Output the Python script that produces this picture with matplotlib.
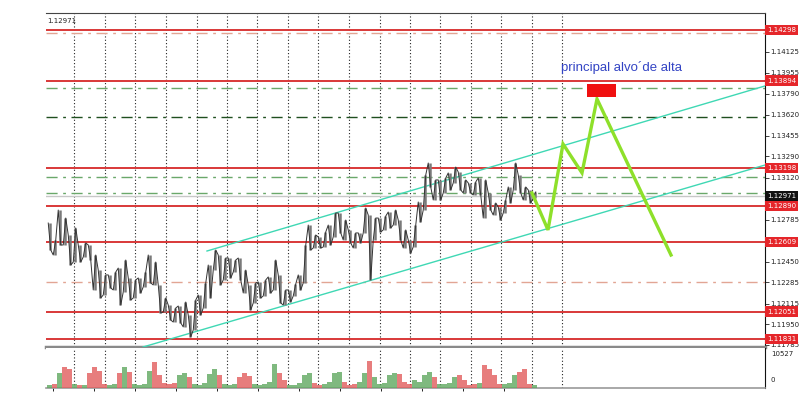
import matplotlib.pyplot as plt
from matplotlib.transforms import blended_transform_factory
import numpy as np

# barras (maxima / minima) - EURUSD H4 aprox
highs = [1.12757, 1.12622, 1.12861, 1.12797, 1.12662, 1.12718, 1.12582, 1.12598, 1.12582, 1.12502,
         1.12382, 1.12343, 1.12343, 1.12366, 1.12398, 1.12462, 1.12319, 1.12303, 1.12319, 1.12366,
         1.12502, 1.12446, 1.12263, 1.12159, 1.12103, 1.12079, 1.12095, 1.12127, 1.12023, 1.12143,
         1.12183, 1.12279, 1.12422, 1.12542, 1.12502, 1.12478, 1.12478, 1.12462, 1.12478, 1.12382,
         1.12263, 1.12279, 1.12287, 1.12303, 1.12327, 1.12462, 1.12343, 1.12223, 1.12223, 1.12271,
         1.12343, 1.12582, 1.12741, 1.12662, 1.12646, 1.12686, 1.12741, 1.12837, 1.12837, 1.12781,
         1.12702, 1.12678, 1.12678, 1.12877, 1.12821, 1.12797, 1.12797, 1.12813, 1.12845, 1.12861,
         1.12781, 1.12702, 1.12622, 1.12741, 1.12925, 1.13141, 1.13236, 1.13101, 1.13101, 1.13117,
         1.13157, 1.13204, 1.13164, 1.13101, 1.13077, 1.13085, 1.13117, 1.13101, 1.12997, 1.12917,
         1.12885, 1.12941, 1.13045, 1.13236, 1.13141, 1.13045, 1.13021, 1.13005]
lows = [1.12542, 1.12502, 1.12582, 1.12582, 1.12422, 1.12446, 1.12446, 1.12486, 1.12462, 1.12223,
        1.12159, 1.12183, 1.12239, 1.12223, 1.12103, 1.12207, 1.12143, 1.12159, 1.12199, 1.12247,
        1.12279, 1.12263, 1.12039, 1.12047, 1.11983, 1.11967, 1.11960, 1.11928, 1.11848, 1.11904,
        1.12023, 1.12079, 1.12159, 1.12382, 1.12263, 1.12303, 1.12319, 1.12366, 1.12303, 1.12199,
        1.12063, 1.12119, 1.12159, 1.12175, 1.12199, 1.12223, 1.12119, 1.12103, 1.12127, 1.12175,
        1.12223, 1.12279, 1.12542, 1.12558, 1.12558, 1.12566, 1.12582, 1.12646, 1.12678, 1.12622,
        1.12598, 1.12558, 1.12598, 1.12678, 1.12303, 1.12622, 1.12686, 1.12702, 1.12718, 1.12741,
        1.12622, 1.12558, 1.12518, 1.12566, 1.12765, 1.12861, 1.13045, 1.12941, 1.12941, 1.12997,
        1.13021, 1.13077, 1.13021, 1.12997, 1.12997, 1.12981, 1.12981, 1.12797, 1.12861, 1.12821,
        1.12781, 1.12837, 1.12917, 1.13021, 1.12997, 1.12941, 1.12917, 1.12957]
volumes = [830, 1110, 3880, 5540, 4990, 1110, 830, 830, 3880, 5540,
           4430, 1110, 830, 1110, 3880, 5540, 4160, 1110, 830, 1110,
           4430, 6930, 3320, 1390, 1110, 1390, 3320, 3880, 2770, 1110,
           830, 1390, 3600, 4990, 3320, 1110, 830, 1110, 2770, 3880,
           3050, 1110, 830, 1110, 1660, 6370, 3880, 2220, 830, 830,
           1390, 3320, 3880, 1390, 830, 1110, 1660, 3880, 4160, 1660,
           830, 1110, 1660, 3880, 7200, 2770, 1110, 1390, 3320, 3880,
           3600, 1660, 1110, 2220, 1660, 3320, 4160, 2770, 1110, 1110,
           1390, 2770, 3320, 2220, 830, 1110, 1390, 6090, 4990, 3320,
           1110, 1110, 1390, 3320, 4160, 4990, 1110, 830]
vol_max = 10527
last_price = 1.12971

# linhas horizontais
red_levels = [1.14298, 1.13894, 1.13198, 1.12890, 1.12609, 1.12051, 1.11831]
salmon_levels = [1.14274, 1.12286]
green_levels = [1.13835, 1.13124, 1.12994]
dkgreen_levels = [1.13606]
axis_ticks = [1.14125, 1.13955, 1.13790, 1.13620, 1.13455, 1.13290, 1.13120,
              1.12785, 1.12450, 1.12285, 1.12115, 1.11950, 1.11785]
# separadores de dia (indice da barra)
day_sep = [4.9, 11.1, 17.1, 23.3, 29.5, 35.5, 41.5, 47.7, 53.7, 59.9, 66.1,
           72.1, 78.1, 84.3, 90.3, 96.5, 102.5]
# canal
chan_up_x = [31.5, 143.1]
chan_up_y = [1.12534, 1.13851]
chan_lo_x = [18.7, 143.1]
chan_lo_y = [1.11768, 1.13220]
# projecao
proj_x = [96.5, 99.7, 102.7, 106.5, 109.5, 124.3]
proj_y = [1.12997, 1.12702, 1.13388, 1.13157, 1.13747, 1.12502]
alvo_x = [107.5, 113.3]
alvo_y = [1.13763, 1.13867]

plt.rcParams['font.family'] = ['DejaVu Sans']

fig = plt.figure(figsize=(8.06, 3.99), dpi=100)
ax = fig.add_axes([46/806, 1-347/399, 719/806, 334/399])
axv = fig.add_axes([46/806, 1-388/399, 719/806, 40/399])

xmin, xmax = -0.7, 143.1
ax.set_xlim(xmin, xmax)
ax.set_ylim(1.11768, 1.14433)
axv.set_xlim(xmin, xmax)
axv.set_ylim(0, vol_max)

for a in (ax, axv):
    for xs in day_sep:
        a.axvline(xs, color='#222222', lw=0.8, ls=(0, (1, 2)), zorder=1)

for lv in red_levels:
    ax.axhline(lv, color='#d93838', lw=1.4, zorder=2)
for lv in salmon_levels:
    ax.axhline(lv, color='#e2a594', lw=1, ls=(0, (8, 4, 2, 4)), zorder=2)
for lv in green_levels:
    ax.axhline(lv, color='#6aa86a', lw=1, ls=(0, (8, 4, 2, 4)), zorder=2)
for lv in dkgreen_levels:
    ax.axhline(lv, color='#1f4f1f', lw=1, ls=(0, (8, 4, 2, 4)), zorder=2)
ax.axhline(last_price, color='#c8c8c8', lw=1, zorder=2)

ax.plot(chan_up_x, chan_up_y, color='#3fd8b4', lw=1, zorder=3)
ax.plot(chan_lo_x, chan_lo_y, color='#3fd8b4', lw=1, zorder=3)

# barras
n = len(highs)
idx = np.arange(n)
ax.vlines(idx, lows, highs, color='#7a7a7a', lw=1.8, zorder=4)
zx, zy = [], []
for i in range(n):
    if i % 2 == 0:
        zx += [i - 0.25, i + 0.25]; zy += [highs[i], lows[i]]
    else:
        zx += [i - 0.25, i + 0.25]; zy += [lows[i], highs[i]]
ax.plot(zx, zy, color='#333333', lw=0.7, zorder=5)

ax.plot(proj_x, proj_y, color='#8ee02a', lw=2.4, zorder=6, solid_joinstyle='miter')
ax.fill_between(alvo_x, alvo_y[0], alvo_y[1], color='#f01010', zorder=6, lw=0)
ax.text(102.3, 1.14002, 'principal alvo\u00b4de alta', color='#3344c4',
        fontsize=9.5, family=['Liberation Sans', 'DejaVu Sans'], va='center', ha='left', zorder=7)

# volume
mids = [(h + l) / 2 for h, l in zip(highs, lows)]
vcol = ['#5fa85f' if i == 0 or mids[i] >= mids[i-1] else '#e25c5c' for i in range(n)]
axv.bar(idx, volumes, width=0.85, color=vcol, alpha=0.8, lw=0, zorder=3)

# eixos
ax.set_xticks([])
ax.yaxis.tick_right()
ax.set_yticks(axis_ticks)
ax.set_yticklabels([f'{t:.5f}' for t in axis_ticks])
ax.tick_params(axis='y', labelsize=5, length=3, width=0.6, pad=1, colors='#222222')
ax.spines['left'].set_visible(False)
ax.spines['top'].set_color('#444444')
ax.spines['right'].set_color('#111111')
ax.spines['bottom'].set_color('#8a8a8a')
ax.spines['bottom'].set_linewidth(2.5)

axv.set_yticks([])
axv.set_xticks([0.7, 8.9, 17.1, 25.3, 33.5, 41.7, 49.9, 58.1, 66.3, 74.5, 82.7, 90.9])
axv.set_xticklabels([])
axv.tick_params(axis='x', length=2, width=0.6)
axv.spines['left'].set_visible(False)
axv.spines['top'].set_visible(False)
axv.spines['right'].set_color('#111111')
axv.spines['bottom'].set_color('#999999')
axv.spines['bottom'].set_linewidth(1.2)
tv = blended_transform_factory(axv.transAxes, axv.transAxes)
axv.text(1.008, 0.92, str(vol_max), transform=tv, fontsize=5, va='top', ha='left', color='#222222')
axv.text(1.008, 0.12, '0', transform=tv, fontsize=5, va='bottom', ha='left', color='#222222')

tr = blended_transform_factory(ax.transAxes, ax.transData)
for lv in red_levels:
    ax.text(1.003, lv, f'{lv:.5f}', transform=tr, fontsize=5, color='white', va='center', ha='left',
            clip_on=False, zorder=10,
            bbox=dict(boxstyle='square,pad=0.3', fc='#e5262a', ec='none'))
ax.text(1.003, last_price, f'{last_price:.5f}', transform=tr, fontsize=5, color='white', va='center',
        ha='left', clip_on=False, zorder=10, bbox=dict(boxstyle='square,pad=0.3', fc='#111111', ec='none'))

ax.text(0.002, 0.985, f'{last_price:.5f}', transform=ax.transAxes, fontsize=5, va='top', ha='left',
        color='#222222')

fig.savefig('out.png', dpi=100)
